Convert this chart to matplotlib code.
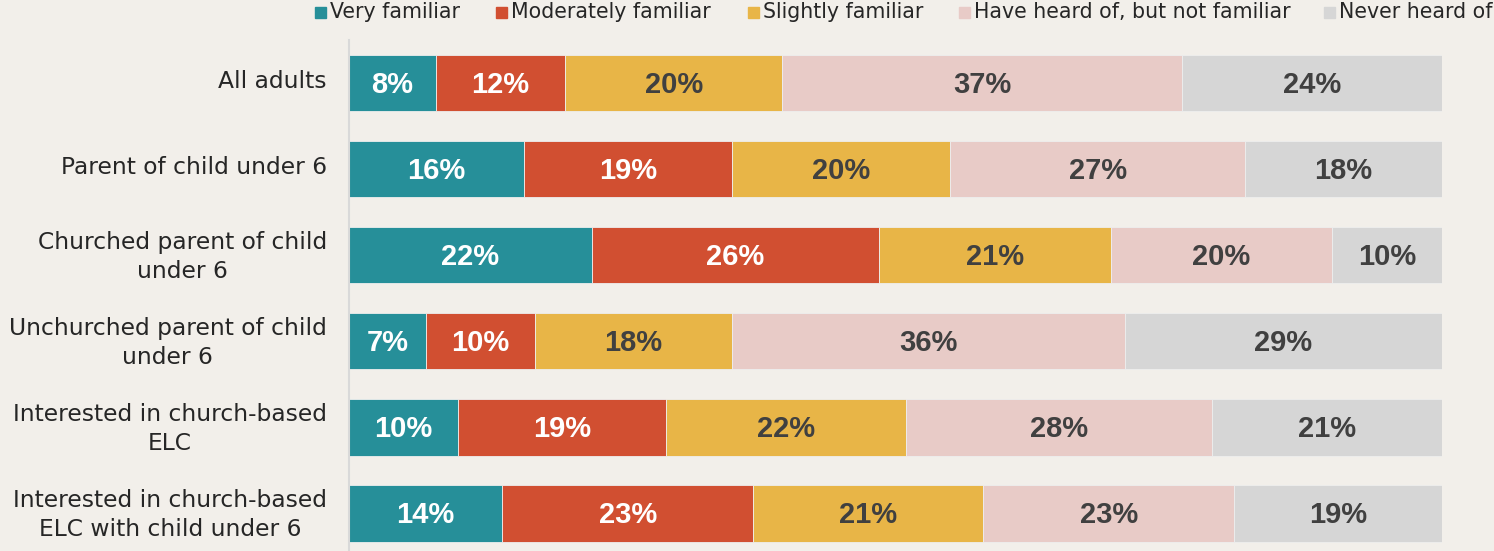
import numpy as np
import matplotlib.pyplot as plt
from matplotlib.patches import Rectangle
from matplotlib.transforms import ScaledTranslation

groups = [
    "All adults",
    "Parent of child under 6",
    "Churched parent of child\nunder 6",
    "Unchurched parent of child\nunder 6",
    "Interested in church-based\nELC",
    "Interested in church-based\nELC with child under 6",
]
levels = [
    "Very familiar",
    "Moderately familiar",
    "Slightly familiar",
    "Have heard of, but not familiar",
    "Never heard of",
]
very = [8, 16, 22, 7, 10, 14]
moderately = [12, 19, 26, 10, 19, 23]
slightly = [20, 20, 21, 18, 22, 21]
heard = [37, 27, 20, 36, 28, 23]
never = [24, 18, 10, 29, 21, 19]

colors = ["#268f99", "#d14f31", "#e8b547", "#e8cbc7", "#d6d6d6"]
label_colors = ["white", "white", "#404040", "#404040", "#404040"]
bg = "#f2efea"

values = np.array([very, moderately, slightly, heard, never], dtype=float)
# each row drawn as a 100% stacked bar
shares = values / values.sum(axis=0) * 100

fig = plt.figure(figsize=(14.94, 5.51), dpi=100, facecolor=bg)
ax = fig.add_axes([349 / 1494, 0, 1093 / 1494, 1 - 40 / 551])
ax.set_facecolor(bg)

y = np.arange(len(groups))
left = np.zeros(len(groups))
for i in range(len(levels)):
    ax.barh(y, shares[i], left=left, height=0.66, color=colors[i],
            edgecolor="#eeeeee", linewidth=0.6, label=levels[i])
    for j in range(len(groups)):
        ax.text(left[j] + shares[i][j] / 2, y[j] + 0.02, f"{int(values[i][j])}%",
                ha="center", va="center", fontsize=21, fontweight="bold",
                family="Liberation Sans", color=label_colors[i])
    left += shares[i]

ax.set_xlim(0, 100)
ax.set_ylim(5.44, -0.5)
ax.set_yticks(y)
ax.set_yticklabels(groups, fontsize=16.8, color="#262626",
                   multialignment="center", linespacing=1.35)
ax.tick_params(axis="y", length=0, pad=16)
# nudge the group names up a little
shift = ScaledTranslation(0, 4 / 100, fig.dpi_scale_trans)
for lbl in ax.get_yticklabels():
    lbl.set_transform(lbl.get_transform() + shift)
ax.set_xticks([])
for s in ["top", "right", "bottom"]:
    ax.spines[s].set_visible(False)
ax.spines["left"].set_color("#d9d9d9")
ax.spines["left"].set_linewidth(1.5)

# legend row across the top
legend_x = [315, 496, 748, 959, 1324]
for i, name in enumerate(levels):
    x0 = legend_x[i] / 1494
    fig.patches.append(Rectangle((x0, 1 - 18 / 551), 11 / 1494, 11 / 551,
                                 transform=fig.transFigure, color=colors[i]))
    fig.text(x0 + 15 / 1494, 1 - 12 / 551, name, fontsize=14.8,
             color="#262626", va="center", ha="left")

fig.savefig("out.png", dpi=100, facecolor=bg)
